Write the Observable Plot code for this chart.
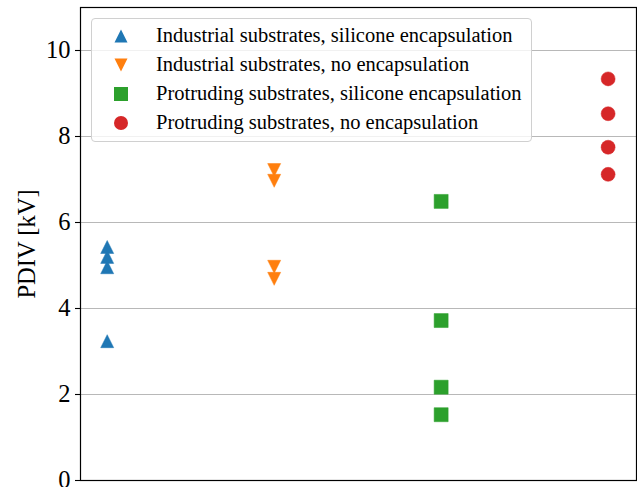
<!DOCTYPE html>
<html>
<head>
<meta charset="utf-8">
<script src="https://cdn.jsdelivr.net/npm/d3@7"></script>
<script src="https://cdn.jsdelivr.net/npm/@observablehq/plot@0.6"></script>
<style>
  html, body { margin: 0; padding: 0; background: #fff; }
  #wrap { position: relative; width: 637px; height: 487px; overflow: hidden; font-family: "Liberation Serif", "Times New Roman", serif; }
  #legend { position: absolute; left: 91px; top: 18px; width: 439px; padding: 2px 0 4px 0;
    border: 1px solid #d0d0d0; border-radius: 4px; background: rgba(255,255,255,0.8); }
  .row { height: 29px; display: flex; align-items: center; font-family: "Liberation Serif", "Times New Roman", serif; font-size: 20.5px; color: #000; white-space: nowrap; }
  .row span { font-family: "Liberation Serif", serif; }
  .row svg { margin-left: 20px; margin-right: 26px; flex: none; }
</style>
</head>
<body>
<div id="wrap"><div id="chart"></div><div id="legend"></div></div>
<script>
// ---- data ----
const seriesNames = [
  "Industrial substrates, silicone encapsulation",
  "Industrial substrates, no encapsulation",
  "Protruding substrates, silicone encapsulation",
  "Protruding substrates, no encapsulation"
];
const seriesColors = ["#1f77b4", "#ff7f0e", "#2ca02c", "#d62728"];
const industrialSilicone = [5.43, 5.20, 4.96, 3.24];
const industrialNone = [7.22, 6.97, 4.97, 4.69];
const protrudingSilicone = [6.49, 3.72, 2.17, 1.53];
const protrudingNone = [9.34, 8.53, 7.75, 7.12];
const yTicks = [0, 2, 4, 6, 8, 10];

// ---- matplotlib-like symbols ----
const triUp = { draw(ctx, size) { const h = Math.sqrt(size / Math.PI); ctx.moveTo(0, -h); ctx.lineTo(h, h); ctx.lineTo(-h, h); ctx.closePath(); } };
const triDown = { draw(ctx, size) { const h = Math.sqrt(size / Math.PI); ctx.moveTo(0, h); ctx.lineTo(h, -h); ctx.lineTo(-h, -h); ctx.closePath(); } };
const symbols = [triUp, triDown, d3.symbolSquare, d3.symbolCircle];
const radii = [6.5, 6.5, 7.9, 7];

const allValues = [industrialSilicone, industrialNone, protrudingSilicone, protrudingNone];
const tables = allValues.map((vals, i) => vals.map(v => ({ group: i, value: v })));

const chart = Plot.plot({
  width: 637,
  height: 487,
  marginLeft: 80,
  marginRight: 1,
  marginTop: 7,
  marginBottom: 7,
  style: { fontFamily: "Liberation Serif, Times New Roman, serif", fontSize: "24.5px", color: "#000", background: "transparent", overflow: "visible" },
  x: { domain: [-0.16, 3.17], axis: null },
  y: { domain: [0, 11] },
  marks: [
    Plot.ruleY(yTicks.filter(d => d > 0), { stroke: "#b8b8b8", strokeWidth: 1.1 }),
    Plot.axisY({ ticks: yTicks, tickSize: 5, tickPadding: 5, tickFormat: d => String(d), stroke: "#000", strokeWidth: 1.1, fontSize: 24.5,
      label: "PDIV [kV]", labelAnchor: "center", labelArrow: "none", labelOffset: 63 }),
    ...tables.map((t, i) => Plot.dot(t, { x: "group", y: "value", symbol: symbols[i], r: radii[i], fill: seriesColors[i], stroke: seriesColors[i], strokeWidth: 0.5 })),
    Plot.frame({ stroke: "#000", strokeWidth: 1.2 })
  ]
});
document.getElementById("chart").appendChild(chart);

// ---- legend ----
const legend = document.getElementById("legend");
seriesNames.forEach((name, i) => {
  const row = document.createElement("div");
  row.className = "row";
  const s = d3.create("svg").attr("width", 18).attr("height", 18).attr("viewBox", "-9 -9 18 18");
  s.append("path").attr("d", d3.symbol(symbols[i], Math.PI * radii[i] * radii[i])()).attr("fill", seriesColors[i]);
  row.appendChild(s.node());
  const span = document.createElement("span");
  span.textContent = name;
  row.appendChild(span);
  legend.appendChild(row);
});
</script>
</body>
</html>
